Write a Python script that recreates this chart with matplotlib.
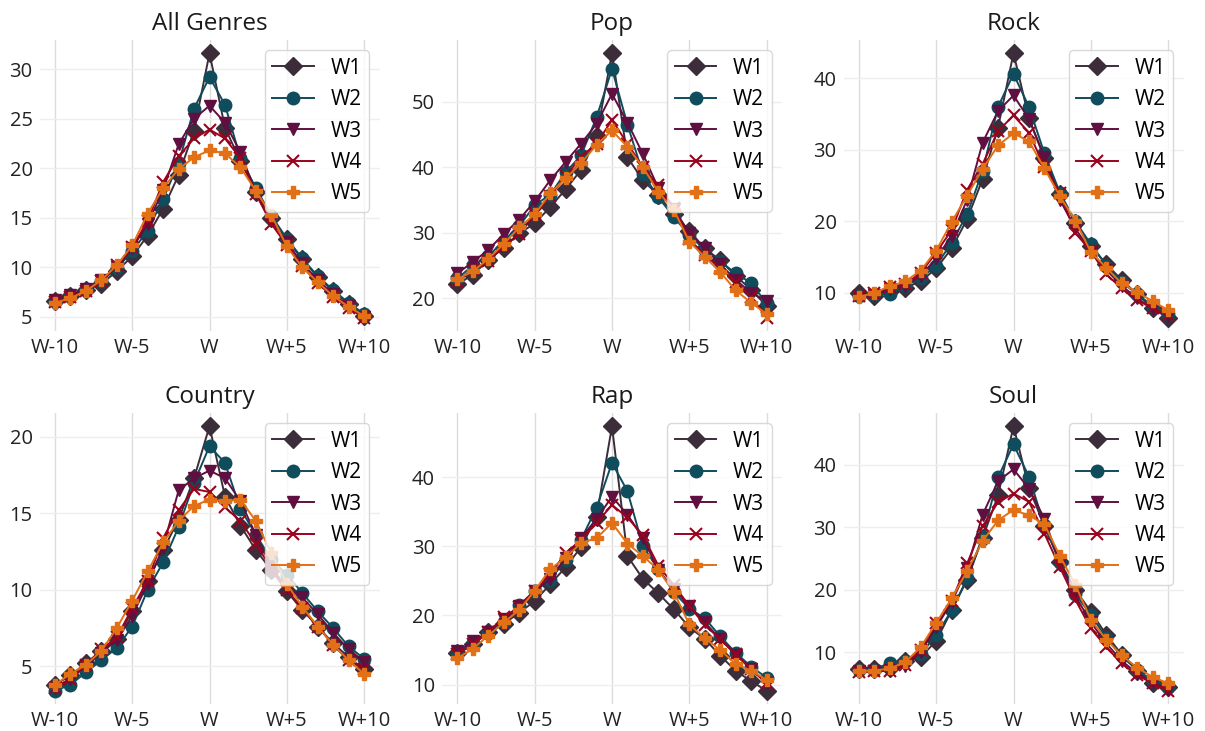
import numpy as np
import matplotlib.pyplot as plt
from matplotlib.ticker import MultipleLocator

plt.rcParams["font.family"] = ["Open Sans", "DejaVu Sans"]

weeks = list(range(-10, 11))
tick_pos = [-10, -5, 0, 5, 10]
tick_labels = ["W-10", "W-5", "W", "W+5", "W+10"]
series_names = ["W1", "W2", "W3", "W4", "W5"]
colors = ["#3b2e3a", "#0f4c5c", "#5f0f40", "#9a031e", "#e27016"]
markers = ["D", "o", "v", "x", "P"]

all_genres = [
    [6.6, 7.1, 7.7, 8.3, 9.6, 11.1, 13.2, 15.9, 19.3, 23.8, 31.6, 24.1, 20.7, 17.6, 15.0, 12.8, 10.8, 9.0, 7.6, 6.3, 5.1],
    [6.6, 7.2, 7.8, 8.6, 9.9, 11.6, 13.7, 16.9, 20.5, 26.0, 29.2, 26.4, 21.0, 18.0, 15.2, 12.9, 10.9, 9.1, 7.7, 6.4, 5.3],
    [6.7, 7.2, 7.8, 8.7, 10.0, 11.9, 14.4, 17.8, 22.4, 25.0, 26.3, 24.6, 21.6, 17.5, 14.8, 12.5, 10.4, 8.7, 7.3, 6.1, 5.0],
    [6.5, 7.0, 7.6, 8.6, 10.2, 12.0, 14.7, 18.6, 21.2, 23.0, 23.9, 23.0, 21.0, 17.4, 14.4, 12.2, 10.1, 8.4, 7.0, 5.9, 4.9],
    [6.4, 6.9, 7.6, 8.7, 10.2, 12.2, 15.4, 18.0, 19.9, 21.1, 21.8, 21.5, 20.1, 17.7, 15.3, 12.1, 10.0, 8.5, 7.1, 6.0, 5.1],
]
pop = [
    [22.1, 23.6, 25.8, 27.7, 29.9, 31.4, 33.9, 36.6, 39.6, 44.8, 57.4, 41.5, 38.0, 35.7, 32.8, 30.3, 27.6, 25.8, 23.4, 21.3, 18.8],
    [23.0, 25.0, 26.4, 28.8, 31.0, 34.2, 35.8, 39.2, 41.8, 47.6, 55.0, 46.5, 39.0, 35.4, 32.4, 29.6, 27.4, 25.6, 23.8, 22.3, 19.2],
    [23.8, 25.5, 27.4, 29.8, 32.0, 34.8, 38.0, 40.8, 43.6, 46.6, 51.2, 46.8, 42.0, 36.8, 33.6, 30.0, 27.6, 25.2, 22.8, 20.8, 19.6],
    [22.5, 24.4, 25.6, 28.0, 29.8, 32.8, 35.6, 38.6, 41.6, 43.6, 47.2, 43.6, 40.0, 37.2, 33.8, 29.0, 26.6, 24.6, 22.4, 20.2, 17.0],
    [22.9, 24.1, 26.0, 28.3, 30.8, 32.8, 36.0, 38.3, 40.6, 43.4, 45.6, 43.1, 40.0, 36.2, 33.5, 28.6, 26.3, 24.0, 21.2, 19.3, 17.6],
]
rock = [
    [9.9, 9.6, 10.2, 10.7, 11.6, 13.4, 16.2, 20.3, 25.9, 33.1, 43.5, 34.4, 28.8, 23.8, 19.8, 16.6, 14.0, 11.8, 9.8, 7.8, 6.5],
    [9.5, 9.7, 9.8, 11.0, 12.0, 13.8, 17.0, 21.0, 27.0, 36.0, 40.6, 36.0, 29.5, 24.0, 20.0, 16.8, 13.8, 11.5, 9.8, 8.2, 7.0],
    [9.4, 9.7, 10.5, 11.0, 12.4, 14.8, 18.0, 23.0, 31.0, 35.4, 37.6, 34.3, 29.0, 23.0, 19.0, 15.8, 13.2, 11.0, 9.2, 7.8, 6.8],
    [9.6, 10.0, 10.8, 11.2, 12.8, 15.6, 18.8, 24.4, 28.0, 32.6, 34.8, 32.4, 27.6, 24.0, 18.4, 15.8, 12.6, 10.6, 9.0, 7.8, 6.9],
    [9.4, 10.0, 10.9, 11.6, 13.1, 15.9, 19.9, 23.6, 27.3, 30.6, 32.3, 31.2, 27.4, 23.5, 20.1, 15.7, 13.5, 11.3, 10.1, 8.8, 7.6],
]
country = [
    [3.8, 4.4, 5.2, 6.0, 6.8, 8.6, 10.6, 12.6, 14.6, 17.3, 20.7, 16.1, 14.2, 12.6, 11.3, 9.9, 8.7, 7.6, 6.5, 5.6, 4.8],
    [3.4, 3.8, 4.6, 5.4, 6.2, 7.6, 10.0, 11.8, 14.1, 17.0, 19.4, 18.3, 15.3, 13.6, 12.0, 11.0, 9.8, 8.6, 7.5, 6.3, 5.5],
    [3.6, 4.2, 5.0, 5.9, 6.7, 8.3, 10.4, 12.8, 16.5, 17.3, 17.8, 17.3, 15.8, 13.6, 11.5, 10.1, 9.5, 8.4, 7.2, 6.1, 5.3],
    [3.6, 4.2, 5.1, 6.1, 6.9, 8.8, 10.6, 13.4, 15.2, 16.6, 16.4, 15.4, 14.5, 13.0, 11.4, 10.0, 8.8, 7.6, 6.4, 5.4, 4.8],
    [3.8, 4.5, 5.1, 6.0, 7.5, 9.3, 11.2, 13.1, 14.5, 15.5, 15.9, 15.8, 15.9, 14.5, 12.4, 10.4, 8.9, 7.6, 6.4, 5.4, 4.5],
]
rap = [
    [14.5, 15.8, 17.6, 18.8, 20.4, 22.1, 24.5, 27.0, 29.9, 34.3, 47.4, 28.6, 25.3, 23.2, 20.9, 18.3, 16.6, 14.2, 12.0, 10.5, 9.1],
    [14.6, 16.0, 17.4, 19.0, 21.5, 23.6, 25.2, 28.0, 31.0, 35.6, 42.1, 38.0, 30.0, 26.7, 23.4, 21.0, 19.6, 17.0, 14.6, 12.6, 11.0],
    [14.8, 16.3, 17.6, 19.5, 21.4, 23.5, 25.3, 28.3, 31.2, 34.0, 37.2, 34.6, 31.2, 26.6, 23.8, 21.4, 19.0, 16.6, 14.3, 12.3, 10.2],
    [14.4, 15.8, 17.6, 19.8, 21.2, 23.6, 26.0, 29.0, 31.0, 33.4, 36.0, 34.2, 31.6, 27.2, 24.4, 21.4, 18.6, 16.6, 14.4, 12.2, 10.2],
    [13.8, 15.2, 17.1, 19.0, 20.8, 23.6, 26.7, 28.4, 30.5, 31.2, 33.4, 30.4, 28.6, 26.6, 23.4, 18.7, 16.7, 15.0, 13.0, 12.0, 10.7],
]
soul = [
    [7.3, 7.3, 7.5, 8.5, 9.2, 11.8, 16.7, 21.6, 28.3, 35.1, 46.2, 36.3, 30.2, 24.5, 20.0, 16.5, 12.8, 9.6, 7.0, 5.0, 4.4],
    [7.1, 7.2, 8.3, 8.6, 9.7, 12.7, 16.7, 21.8, 28.5, 38.0, 43.3, 38.1, 30.3, 24.4, 19.3, 16.0, 12.3, 9.3, 7.2, 5.4, 4.4],
    [7.0, 7.0, 7.2, 7.8, 10.0, 14.0, 18.0, 23.4, 32.0, 37.4, 39.3, 36.2, 31.4, 24.2, 19.0, 14.8, 11.4, 8.6, 6.6, 5.2, 4.0],
    [6.8, 6.9, 7.0, 8.0, 10.4, 14.6, 18.2, 24.2, 30.2, 34.0, 35.4, 34.1, 29.0, 23.6, 18.4, 13.8, 10.8, 8.2, 6.3, 5.0, 3.8],
    [7.0, 7.0, 7.4, 8.4, 10.8, 14.7, 18.6, 23.0, 27.8, 31.1, 32.8, 31.9, 30.5, 25.4, 20.8, 15.2, 12.0, 9.5, 7.5, 6.0, 5.0],
]

genres = ["All Genres", "Pop", "Rock", "Country", "Rap", "Soul"]
genre_data = [all_genres, pop, rock, country, rap, soul]
y_steps = [5, 10, 10, 5, 10, 10]

W, H = 1205, 731
fig = plt.figure(figsize=(W / 100, H / 100), dpi=100)

lefts = [39.5, 442, 843.5]
tops = [40, 413]
ax_w, ax_h = 340, 291

for i, (name, data) in enumerate(zip(genres, genre_data)):
    row, col = divmod(i, 3)
    ax = fig.add_axes([lefts[col] / W, 1 - (tops[row] + ax_h) / H, ax_w / W, ax_h / H])

    for j in range(5):
        ax.plot(weeks, data[j], color=colors[j], marker=markers[j], markersize=9,
                markeredgewidth=1.5 if markers[j] == "x" else 1.0,
                linewidth=1.4, label=series_names[j])

    ax.set_title(name, fontsize=17.5, color="#1a1a1a", pad=7)
    ax.set_xticks(tick_pos)
    ax.set_xticklabels(tick_labels)
    ax.yaxis.set_major_locator(MultipleLocator(y_steps[i]))
    ax.tick_params(length=0, labelsize=14.5, labelcolor="#222222", pad=5)

    for s in ax.spines.values():
        s.set_visible(False)
    ax.set_axisbelow(True)
    ax.grid(axis="x", color="#dcdcdc", linewidth=1.0)
    ax.grid(axis="y", color="#eeeeee", linewidth=1.0)

    leg = ax.legend(loc="upper right", fontsize=15, labelspacing=0.5,
                    handlelength=2.0, handletextpad=0.8, borderpad=0.35,
                    framealpha=0.8, edgecolor="#d0d0d0", fancybox=True)
    leg.get_frame().set_linewidth(1.0)

fig.savefig("out.png", dpi=100)
